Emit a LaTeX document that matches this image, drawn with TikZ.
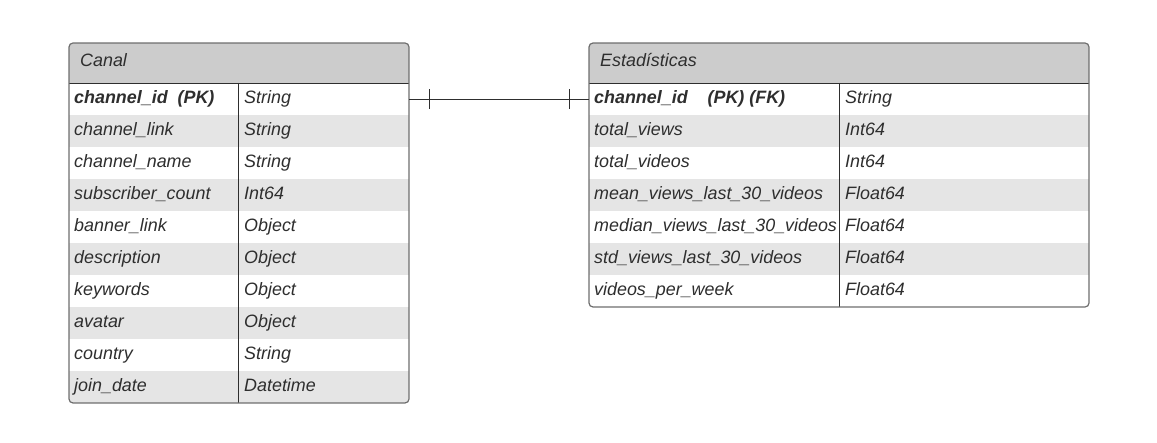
\documentclass[tikz,border=0pt]{standalone}
\usepackage{fontspec}
\setmainfont{Liberation Sans}
\usetikzlibrary{calc}
\definecolor{headgray}{HTML}{CCCCCC}
\definecolor{stripe}{HTML}{E5E5E5}
\definecolor{edge}{HTML}{6E6E6E}
\definecolor{ink}{HTML}{2E2E2E}
\begin{document}
\begin{tikzpicture}[x=1pt,y=-1pt,
  cell/.style={anchor=base west,inner sep=0pt,text=ink,font=\fontsize{17.9}{20}\selectfont\itshape},
  keycell/.style={cell,font=\fontsize{17.9}{20}\selectfont\bfseries\itshape},
  rowbox/.style={inner sep=0pt,minimum height=32pt,draw=none},
  outline/.style={draw=edge,line width=1.2pt,rounded corners=4pt},
  rule/.style={draw=ink,line width=0.9pt},
  link/.style={draw=ink,line width=0.9pt}]
\useasboundingbox (0,0) rectangle (1157,443);

% ---------- Canal ----------
\fill[white,rounded corners=4pt] (69,43) rectangle (409,403);
\begin{scope}
\clip[rounded corners=4pt] (69,43) rectangle (409,403);
\fill[headgray] (69,43) rectangle (409,83);
\foreach \r in {1,3,5,7,9}{
  \fill[stripe] (69,{83+32*\r}) rectangle (409,{115+32*\r});
}
\end{scope}
\draw[rule] (69,83) -- (409,83);
\draw[rule] (238,83) -- (238,403);
\draw[outline] (69,43) rectangle (409,403);
\node[cell] (canalT) at (80,67) {Canal};
\node[rowbox,minimum width=340pt,anchor=north west] (c1) at (69,83) {};

\node[keycell] (ca1) at (74,104) {channel\_id\ \ (PK)};
\node[cell] (cb1) at (244,104) {String};
\node[cell] (ca2) at (74,136) {channel\_link};
\node[cell] (cb2) at (244,136) {String};
\node[cell] (ca3) at (74,168) {channel\_name};
\node[cell] (cb3) at (244,168) {String};
\node[cell] (ca4) at (74,200) {subscriber\_count};
\node[cell] (cb4) at (244,200) {Int64};
\node[cell] (ca5) at (74,232) {banner\_link};
\node[cell] (cb5) at (244,232) {Object};
\node[cell] (ca6) at (74,264) {description};
\node[cell] (cb6) at (244,264) {Object};
\node[cell] (ca7) at (74,296) {keywords};
\node[cell] (cb7) at (244,296) {Object};
\node[cell] (ca8) at (74,328) {avatar};
\node[cell] (cb8) at (244,328) {Object};
\node[cell] (ca9) at (74,360) {country};
\node[cell] (cb9) at (244,360) {String};
\node[cell] (ca10) at (74,392) {join\_date};
\node[cell] (cb10) at (244,392) {Datetime};

% ---------- Estadisticas ----------
\fill[white,rounded corners=4pt] (589,43) rectangle (1089,307);
\begin{scope}
\clip[rounded corners=4pt] (589,43) rectangle (1089,307);
\fill[headgray] (589,43) rectangle (1089,83);
\foreach \r in {1,3,5}{
  \fill[stripe] (589,{83+32*\r}) rectangle (1089,{115+32*\r});
}
\end{scope}
\draw[rule] (589,83) -- (1089,83);
\draw[rule] (839,83) -- (839,307);
\draw[outline] (589,43) rectangle (1089,307);
\node[cell] (estT) at (600,67) {Estadísticas};
\node[rowbox,minimum width=500pt,anchor=north west] (s1) at (589,83) {};

\node[keycell] (sa1) at (594,104) {channel\_id\ \ \ \ (PK) (FK)};
\node[cell] (sb1) at (845,104) {String};
\node[cell] (sa2) at (594,136) {total\_views};
\node[cell] (sb2) at (845,136) {Int64};
\node[cell] (sa3) at (594,168) {total\_videos};
\node[cell] (sb3) at (845,168) {Int64};
\node[cell] (sa4) at (594,200) {mean\_views\_last\_30\_videos};
\node[cell] (sb4) at (845,200) {Float64};
\node[cell] (sa5) at (594,232) {median\_views\_last\_30\_videos};
\node[cell] (sb5) at (845,232) {Float64};
\node[cell] (sa6) at (594,264) {std\_views\_last\_30\_videos};
\node[cell] (sb6) at (845,264) {Float64};
\node[cell] (sa7) at (594,296) {videos\_per\_week};
\node[cell] (sb7) at (845,296) {Float64};

% ---------- relationship ----------
\draw[link] (c1.east) -- (s1.west);
\draw[link] ($(c1.east)+(20,-10)$) -- ($(c1.east)+(20,10)$);
\draw[link] ($(s1.west)+(-20,-10)$) -- ($(s1.west)+(-20,10)$);
\end{tikzpicture}
\end{document}
